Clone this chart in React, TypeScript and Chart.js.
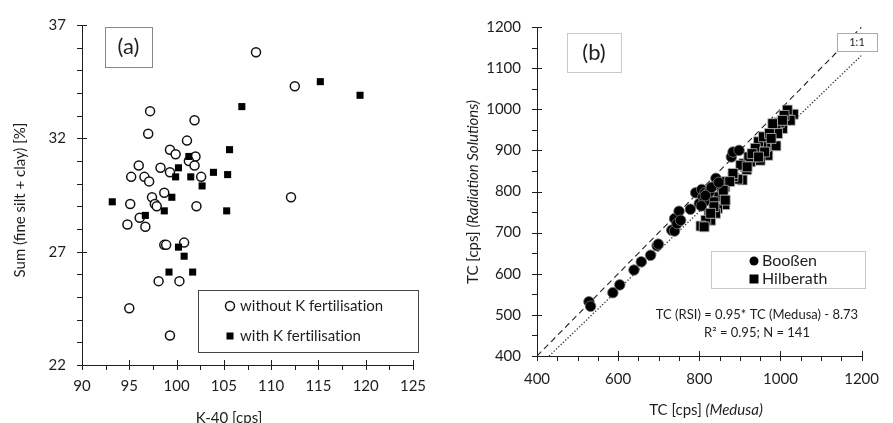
import React, { useEffect, useRef } from "react";
import { Chart, registerables } from "chart.js";
Chart.register(...registerables);

const FONT = "Lato, 'Open Sans', sans-serif";
const INK = "#1e1e1e";

// ---------- Panel (a) data ----------
const withoutK_K40 = [108.4, 112.5, 97.2, 101.9, 97.0, 101.1, 99.3, 99.9, 102.0, 101.3, 96.0, 98.3, 101.9, 95.2, 96.6, 97.1, 99.3, 102.6, 98.7, 97.4, 95.1, 97.7, 97.9, 102.1, 112.1, 96.1, 94.8, 96.7, 98.7, 98.9, 100.8, 98.1, 100.3, 95.0, 99.3];
const withoutK_sum = [35.8, 34.3, 33.2, 32.8, 32.2, 31.9, 31.5, 31.3, 31.2, 31.0, 30.8, 30.7, 30.8, 30.3, 30.3, 30.1, 30.5, 30.3, 29.6, 29.4, 29.1, 29.1, 29.0, 29.0, 29.4, 28.5, 28.2, 28.1, 27.3, 27.3, 27.4, 25.7, 25.7, 24.5, 23.3];
const withK_K40 = [115.2, 119.4, 106.9, 105.6, 101.3, 100.2, 103.9, 99.9, 101.5, 105.4, 102.7, 93.2, 99.5, 96.7, 98.7, 105.3, 100.2, 100.8, 99.2, 101.7];
const withK_sum = [34.5, 33.9, 33.4, 31.5, 31.2, 30.7, 30.5, 30.3, 30.3, 30.4, 29.9, 29.2, 29.4, 28.6, 28.8, 28.8, 27.2, 26.8, 26.1, 26.1];
const aXTicks = [90, 125, 5, 2.5]; // min, max, major, minor
const aYTicks = [22, 37, 5, 1];

// ---------- Panel (b) data ----------
const boossen_medusa = [528, 532, 587, 604, 639, 657, 680, 696, 699, 732, 739, 739, 745, 750, 754, 778, 791, 800, 806, 809, 812, 814, 820, 825, 841, 845, 879, 883, 898, 805, 815, 830, 848];
const boossen_rsi = [532, 521, 554, 573, 609, 629, 645, 668, 672, 706, 704, 734, 722, 752, 730, 757, 797, 771, 805, 787, 775, 797, 795, 799, 832, 819, 884, 896, 900, 765, 790, 810, 822];
const hilberath_medusa = [1032, 1017, 1024, 1005, 997, 989, 993, 989, 969, 964, 954, 946, 950, 934, 926, 917, 906, 895, 883, 867, 863, 863, 855, 848, 845, 840, 828, 824, 816, 804, 812, 836, 910, 922, 958, 973, 981, 1009, 1005, 977, 938, 930, 902, 883, 875, 859, 864, 836, 828, 961, 946, 918];
const hilberath_rsi = [988, 998, 973, 953, 967, 957, 941, 911, 888, 909, 917, 921, 876, 884, 872, 853, 828, 830, 836, 824, 811, 768, 795, 787, 759, 747, 730, 747, 730, 716, 714, 775, 868, 884, 933, 941, 965, 985, 973, 929, 905, 892, 864, 844, 824, 803, 779, 763, 747, 896, 884, 860];
const oneToOne_x = [400, 1200];
const oneToOne_y = [400, 1200];
const fit_x = [430, 1200];
const fit_y = [400, 1131];
const bXTicks = [400, 1200, 200, 50];
const bYTicks = [400, 1200, 100, 50];

const pts = (xs: number[], ys: number[]) => xs.map((x, i) => ({ x, y: ys[i] }));

function drawTicks(chart: any, xt: number[], yt: number[]) {
  const ctx = chart.ctx;
  const xs = chart.scales.x, ys = chart.scales.y;
  const ax = chart.chartArea.left, ay = chart.chartArea.bottom;
  ctx.save();
  ctx.strokeStyle = INK;
  ctx.lineWidth = 1;
  ctx.beginPath();
  const nx = Math.round((xt[1] - xt[0]) / xt[3]);
  for (let i = 0; i <= nx; i++) {
    const v = xt[0] + i * xt[3];
    const major = Math.abs((v - xt[0]) / xt[2] - Math.round((v - xt[0]) / xt[2])) < 1e-6;
    const px = Math.round(xs.getPixelForValue(v)) + 0.5;
    if (major) { ctx.moveTo(px, ay - 5); ctx.lineTo(px, ay + 5); }
    else { ctx.moveTo(px, ay); ctx.lineTo(px, ay + 5); }
  }
  const ny = Math.round((yt[1] - yt[0]) / yt[3]);
  for (let i = 0; i <= ny; i++) {
    const v = yt[0] + i * yt[3];
    const major = Math.abs((v - yt[0]) / yt[2] - Math.round((v - yt[0]) / yt[2])) < 1e-6;
    const py = Math.round(ys.getPixelForValue(v)) + 0.5;
    if (major) { ctx.moveTo(ax - 5, py); ctx.lineTo(ax + 5, py); }
    else { ctx.moveTo(ax - 5, py); ctx.lineTo(ax, py); }
  }
  ctx.stroke();
  ctx.restore();
}

function box(ctx: any, x: number, y: number, w: number, h: number, stroke: string, lw = 1) {
  ctx.save();
  ctx.fillStyle = "#fff";
  ctx.fillRect(x, y, w, h);
  ctx.strokeStyle = stroke;
  ctx.lineWidth = lw;
  ctx.strokeRect(x + 0.5, y + 0.5, w, h);
  ctx.restore();
}

function text(ctx: any, s: string, x: number, y: number, size: number, align = "center", style = "normal", color = INK) {
  ctx.save();
  ctx.font = `${style} ${size}px ${FONT}`;
  ctx.textRendering = "optimizeSpeed";
  ctx.fillStyle = color;
  ctx.textAlign = align;
  ctx.textBaseline = "middle";
  ctx.fillText(s, x, y);
  ctx.restore();
}

function mixed(ctx: any, parts: [string, string][], cx: number, cy: number, size: number, rot = 0) {
  ctx.save();
  ctx.translate(cx, cy);
  ctx.rotate(rot);
  ctx.fillStyle = INK;
  ctx.textBaseline = "middle";
  ctx.textAlign = "left";
  let total = 0;
  for (const [s, st] of parts) { ctx.font = `${st} ${size}px ${FONT}`; total += ctx.measureText(s).width; }
  let x = -total / 2;
  for (const [s, st] of parts) { ctx.font = `${st} ${size}px ${FONT}`; ctx.fillText(s, x, 0); x += ctx.measureText(s).width; }
  ctx.restore();
}

const scaleBase = (t: number[], pad: number, fit: (s: any) => void) => ({
  type: "linear" as const,
  min: t[0],
  max: t[1],
  afterFit: fit,
  grid: { display: true, drawOnChartArea: false, drawTicks: false },
  border: { display: true, color: INK, width: 1 },
  ticks: { stepSize: t[2], padding: pad, color: INK, font: { family: FONT, size: 15 }, callback: (v: any) => String(v) },
});

function PanelA() {
  const ref = useRef<HTMLCanvasElement>(null);
  useEffect(() => {
    const plugin = {
      id: "decorA",
      afterDraw(chart: any) {
        const ctx = chart.ctx;
        drawTicks(chart, aXTicks, aYTicks);
        box(ctx, 105, 27, 47, 40, "#888");
        text(ctx, "(a)", 128.5, 47, 22);
        box(ctx, 198, 290, 220, 62, "#444");
        ctx.save();
        ctx.beginPath(); ctx.arc(230, 306, 4.5, 0, Math.PI * 2);
        ctx.fillStyle = "#fff"; ctx.fill(); ctx.lineWidth = 1.5; ctx.strokeStyle = "#111"; ctx.stroke();
        ctx.fillStyle = "#000"; ctx.fillRect(226.5, 332.5, 7, 7);
        ctx.restore();
        text(ctx, "without K fertilisation", 240, 306, 15, "left");
        text(ctx, "with K fertilisation", 240, 336, 15, "left");
        mixed(ctx, [["Sum (fine silt + clay) [%]", "normal"]], 20, 200, 15, -Math.PI / 2);
        mixed(ctx, [["K-40 [cps]", "normal"]], 229, 418, 15);
      },
    };
    const chart = new Chart(ref.current!, {
      type: "scatter",
      data: {
        datasets: [
          { data: pts(withK_K40, withK_sum), pointStyle: "rect", pointRadius: 5, backgroundColor: "#000", borderColor: "#000", borderWidth: 0 },
          { data: pts(withoutK_K40, withoutK_sum), pointStyle: "circle", pointRadius: 4.5, backgroundColor: "#fff", borderColor: "#111", borderWidth: 1.5 },
        ],
      },
      options: {
        responsive: false,
        animation: false,
        layout: { padding: { left: 0, top: 21, right: 27, bottom: 0 } },
        plugins: { legend: { display: false }, tooltip: { enabled: false }, title: { display: false } },
        scales: {
          x: scaleBase(aXTicks, 12, (s: any) => { s.height = 58; }),
          y: scaleBase(aYTicks, 16, (s: any) => { s.width = 82; }),
        },
      } as any,
      plugins: [plugin],
    });
    return () => chart.destroy();
  }, []);
  return <canvas ref={ref} width={440} height={423} style={{ position: "absolute", left: 0, top: 0 }} />;
}

function PanelB() {
  const ref = useRef<HTMLCanvasElement>(null);
  useEffect(() => {
    const plugin = {
      id: "decorB",
      afterDraw(chart: any) {
        const ctx = chart.ctx;
        drawTicks(chart, bXTicks, bYTicks);
        box(ctx, 127, 33, 54, 39, "#c8c8c8");
        text(ctx, "(b)", 154, 52.5, 22);
        box(ctx, 397, 33, 40, 18, "#aaa");
        text(ctx, "1:1", 417, 42.5, 11);
        box(ctx, 271, 251, 154, 37, "#c8c8c8");
        ctx.save();
        ctx.fillStyle = "#000";
        ctx.beginPath(); ctx.arc(314, 261, 4.5, 0, Math.PI * 2); ctx.fill();
        ctx.fillRect(309.5, 274.5, 9, 9);
        ctx.restore();
        text(ctx, "Booßen", 322, 261, 16, "left");
        text(ctx, "Hilberath", 322, 279, 16, "left");
        text(ctx, "TC (RSI) = 0.95* TC (Medusa) - 8.73", 317, 315, 13);
        text(ctx, "R² = 0.95; N = 141", 317, 333, 13);
        mixed(ctx, [["TC [cps] ", "normal"], ["(Radiation Solutions)", "italic"]], 33, 192, 15, -Math.PI / 2);
        mixed(ctx, [["TC [cps] ", "normal"], ["(Medusa)", "italic"]], 266, 410, 15);
      },
    };
    const chart = new Chart(ref.current!, {
      type: "scatter",
      data: {
        datasets: [
          { data: pts(boossen_medusa, boossen_rsi), pointStyle: "circle", pointRadius: 5.3, backgroundColor: "#000", borderColor: "#777", borderWidth: 0.8 },
          { data: pts(hilberath_medusa, hilberath_rsi), pointStyle: "rect", pointRadius: 7, backgroundColor: "#000", borderColor: "#bbb", borderWidth: 0.8 },
          { data: pts(oneToOne_x, oneToOne_y), showLine: true, pointRadius: 0, borderColor: "#222", borderWidth: 1.1, borderDash: [6, 4] },
          { data: pts(fit_x, fit_y), showLine: true, pointRadius: 0, borderColor: "#222", borderWidth: 1.3, borderDash: [1.2, 2] },
        ],
      },
      options: {
        responsive: false,
        animation: false,
        layout: { padding: { left: 0, top: 27, right: 17, bottom: 0 } },
        plugins: { legend: { display: false }, tooltip: { enabled: false }, title: { display: false } },
        scales: {
          x: scaleBase(bXTicks, 14, (s: any) => { s.height = 67; }),
          y: scaleBase(bYTicks, 16, (s: any) => { s.width = 97; }),
        },
      } as any,
      plugins: [plugin],
    });
    return () => chart.destroy();
  }, []);
  return <canvas ref={ref} width={453} height={423} style={{ position: "absolute", left: 440, top: 0 }} />;
}

export default function App() {
  return (
    <div style={{ position: "absolute", left: 0, top: 0, width: 893, height: 423, background: "#fff", overflow: "hidden" }}>
      <PanelA />
      <PanelB />
    </div>
  );
}
